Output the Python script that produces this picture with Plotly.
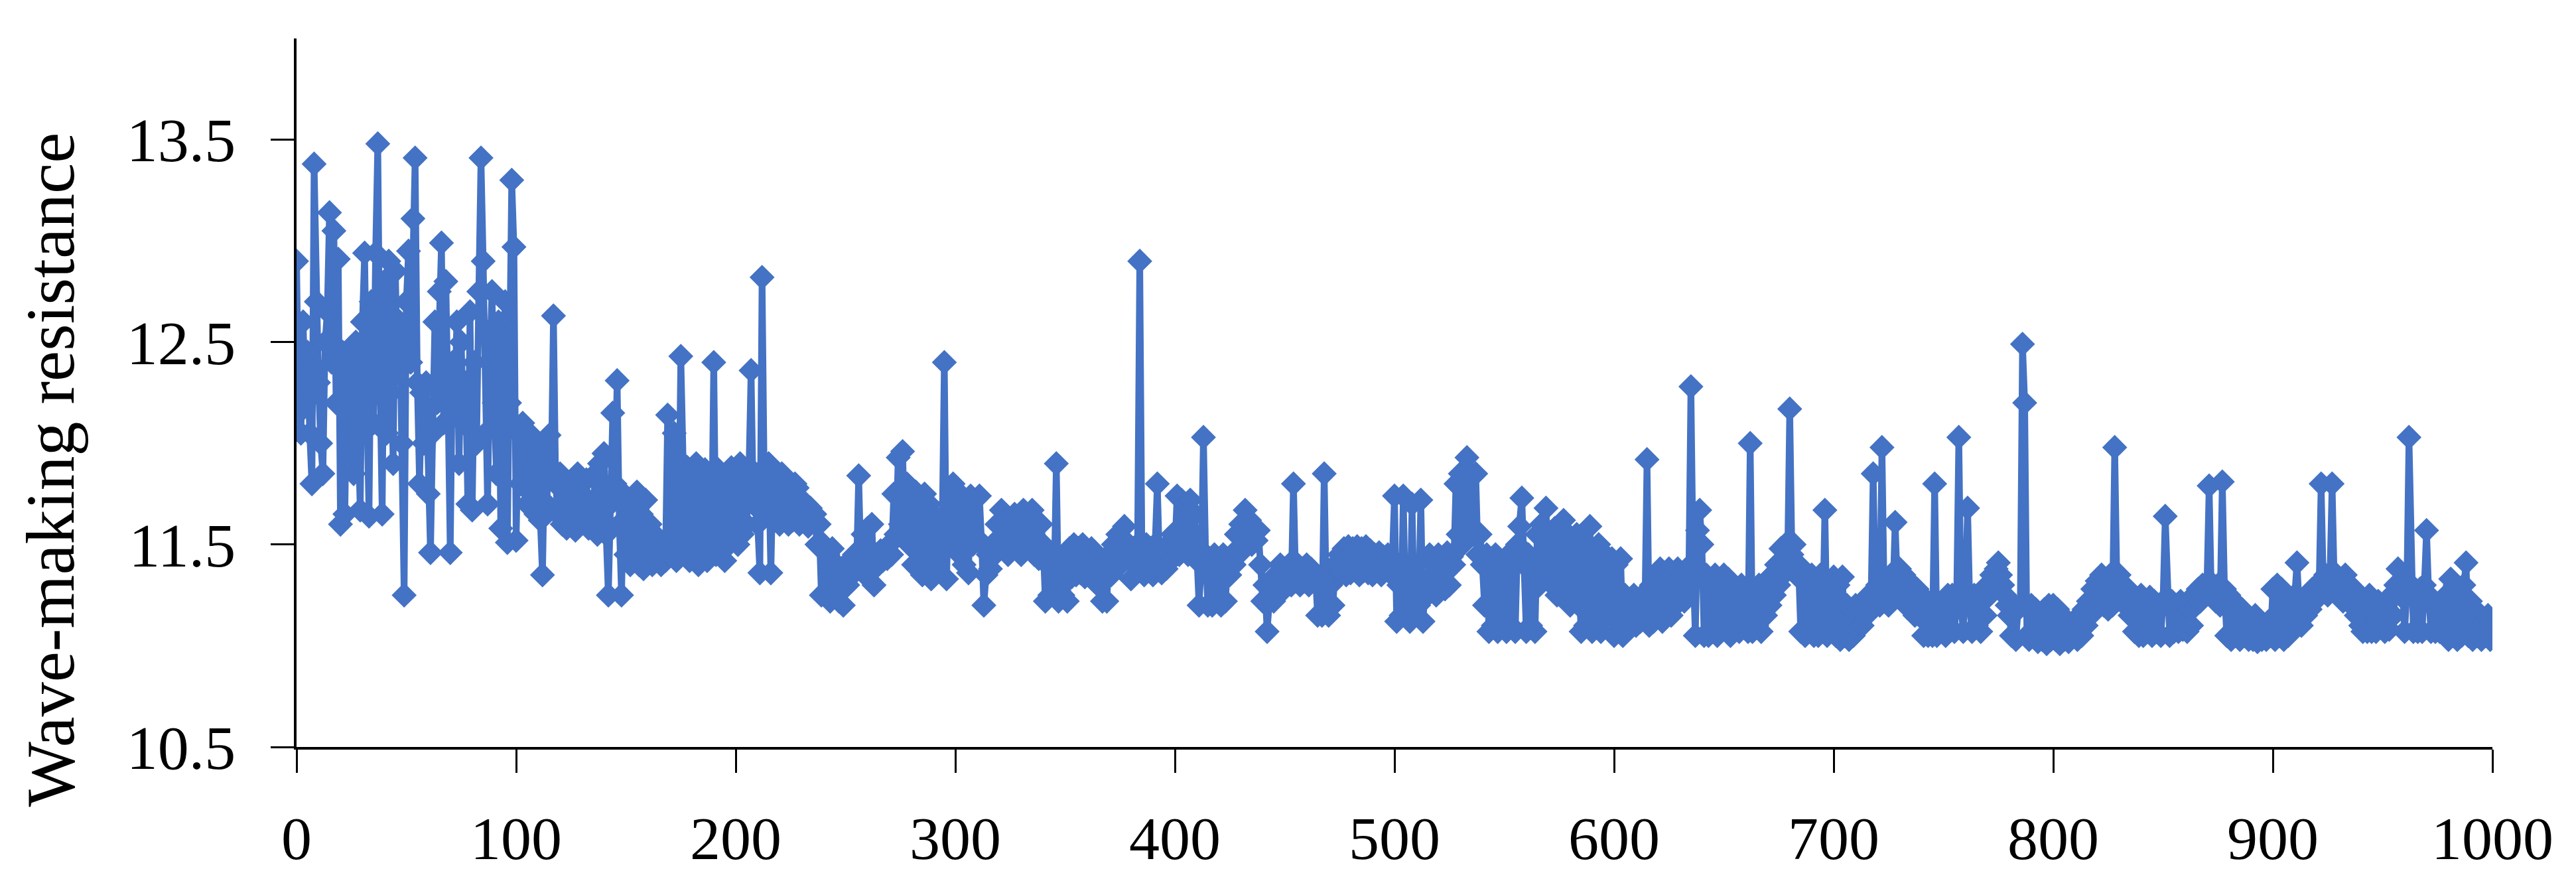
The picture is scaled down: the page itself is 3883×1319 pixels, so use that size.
import plotly.graph_objects as go

# Iteration index
iteration = list(range(0, 1001))

# Wave-making resistance, per 100-iteration block
res_000 = [12.90, 12.15, 12.05, 12.60, 12.20, 12.45, 12.05, 11.80, 13.38, 12.70,
           12.30, 12.00, 11.85, 12.50, 12.65, 13.14, 12.40, 13.05, 12.20, 12.91,
           11.60, 12.45, 11.65, 12.40, 11.95, 12.35, 11.85, 12.50, 12.05, 11.67,
           12.60, 12.94, 12.20, 11.64, 12.70, 12.10, 12.94, 13.48, 12.30, 11.65,
           12.80, 12.05, 12.90, 12.25, 11.90, 12.85, 12.35, 12.60, 12.00, 11.25,
           12.70, 12.95, 12.40, 13.11, 13.41, 12.30, 11.80, 12.25, 12.00, 12.30,
           11.75, 11.46, 12.05, 12.60, 12.20, 12.75, 12.99, 12.10, 12.80, 12.20,
           11.46, 12.40, 12.20, 12.60, 11.90, 12.50, 12.10, 12.30, 11.70, 12.65,
           11.67, 12.40, 12.00, 12.75, 13.41, 12.90, 12.05, 11.70, 12.40, 12.75,
           12.20, 11.85, 12.60, 11.58, 12.40, 12.70, 11.51, 12.20, 13.30, 12.97]
res_100 = [11.52, 12.05, 11.80, 12.10, 11.95, 11.70, 12.05, 11.75, 12.00, 11.65,
           11.90, 11.62, 11.35, 11.95, 11.70, 12.04, 11.85, 12.63, 11.80, 11.65,
           11.85, 11.60, 11.82, 11.58, 11.80, 11.62, 11.78, 11.57, 11.85, 11.60,
           11.75, 11.62, 11.82, 11.58, 11.70, 11.65, 11.85, 11.55, 11.90, 11.62,
           11.95, 11.55, 11.25, 11.70, 12.15, 11.80, 12.31, 11.60, 11.25, 11.75,
           11.45, 11.72, 11.40, 11.70, 11.45, 11.76, 11.40, 11.65, 11.38, 11.72,
           11.42, 11.60, 11.40, 11.55, 11.42, 11.50, 11.40, 11.48, 11.42, 12.14,
           11.45, 11.50, 12.05, 11.42, 11.55, 12.43, 11.90, 11.45, 11.88, 11.42,
           11.85, 11.45, 11.90, 11.40, 11.80, 11.48, 11.87, 11.42, 11.85, 11.50,
           12.40, 11.45, 11.87, 11.48, 11.82, 11.42, 11.85, 11.50, 11.88, 11.55]
res_200 = [11.85, 11.50, 11.90, 11.55, 11.80, 11.60, 11.85, 12.36, 11.70, 11.85,
           11.60, 11.36, 12.82, 11.80, 11.65, 11.90, 11.36, 11.85, 11.62, 11.80,
           11.60, 11.85, 11.65, 11.78, 11.60, 11.75, 11.62, 11.80, 11.78, 11.60,
           11.72, 11.62, 11.70, 11.59, 11.68, 11.62, 11.65, 11.50, 11.60, 11.25,
           11.50, 11.25, 11.45, 11.22, 11.48, 11.25, 11.40, 11.22, 11.35, 11.20,
           11.40, 11.30, 11.42, 11.35, 11.45, 11.38, 11.84, 11.40, 11.55, 11.35,
           11.58, 11.45, 11.60, 11.30, 11.45, 11.40, 11.47, 11.42, 11.46, 11.43,
           11.50, 11.45, 11.75, 11.55, 11.93, 11.60, 11.96, 11.55, 11.80, 11.50,
           11.75, 11.40, 11.76, 11.38, 11.72, 11.35, 11.75, 11.40, 11.70, 11.33,
           11.65, 11.38, 11.60, 11.45, 11.55, 12.40, 11.33, 11.70, 11.50, 11.80]
res_300 = [11.53, 11.74, 11.45, 11.74, 11.40, 11.70, 11.36, 11.74, 11.50, 11.72,
           11.53, 11.74, 11.50, 11.20, 11.35, 11.45, 11.38, 11.50, 11.45, 11.60,
           11.48, 11.67, 11.50, 11.62, 11.45, 11.60, 11.48, 11.65, 11.50, 11.62,
           11.45, 11.67, 11.48, 11.60, 11.50, 11.67, 11.45, 11.62, 11.43, 11.60,
           11.50, 11.22, 11.40, 11.25, 11.45, 11.30, 11.90, 11.22, 11.40, 11.25,
           11.45, 11.22, 11.48, 11.34, 11.50, 11.35, 11.48, 11.36, 11.50, 11.34,
           11.45, 11.38, 11.48, 11.35, 11.45, 11.30, 11.40, 11.22, 11.42, 11.22,
           11.45, 11.35, 11.50, 11.38, 11.55, 11.40, 11.52, 11.59, 11.45, 11.50,
           11.33, 11.48, 11.40, 11.50, 12.90, 11.45, 11.35, 11.50, 11.38, 11.48,
           11.35, 11.50, 11.80, 11.40, 11.36, 11.48, 11.38, 11.50, 11.42, 11.55]
res_400 = [11.48, 11.74, 11.45, 11.72, 11.48, 11.70, 11.45, 11.72, 11.50, 11.65,
           11.45, 11.20, 11.40, 12.03, 11.45, 11.20, 11.42, 11.20, 11.45, 11.25,
           11.42, 11.20, 11.45, 11.22, 11.40, 11.35, 11.45, 11.40, 11.55, 11.45,
           11.60, 11.50, 11.67, 11.55, 11.62, 11.50, 11.57, 11.52, 11.57, 11.40,
           11.22, 11.30, 11.07, 11.22, 11.30, 11.22, 11.35, 11.25, 11.40, 11.30,
           11.38, 11.32, 11.40, 11.30, 11.80, 11.32, 11.40, 11.30, 11.38, 11.32,
           11.40, 11.30, 11.38, 11.32, 11.35, 11.15, 11.30, 11.15, 11.85, 11.20,
           11.15, 11.30, 11.20, 11.40, 11.35, 11.45, 11.36, 11.48, 11.35, 11.49,
           11.36, 11.48, 11.38, 11.49, 11.35, 11.48, 11.37, 11.49, 11.36, 11.47,
           11.35, 11.45, 11.38, 11.46, 11.35, 11.44, 11.38, 11.45, 11.36, 11.42]
res_500 = [11.74, 11.12, 11.30, 11.15, 11.74, 11.20, 11.35, 11.12, 11.70, 11.15,
           11.30, 11.20, 11.72, 11.12, 11.30, 11.25, 11.45, 11.28, 11.40, 11.25,
           11.45, 11.30, 11.42, 11.28, 11.46, 11.30, 11.44, 11.40, 11.80, 11.55,
           11.85, 11.50, 11.78, 11.93, 11.60, 11.85, 11.55, 11.85, 11.45, 11.55,
           11.40, 11.20, 11.45, 11.07, 11.40, 11.10, 11.45, 11.07, 11.40, 11.12,
           11.42, 11.07, 11.45, 11.10, 11.40, 11.07, 11.50, 11.59, 11.73, 11.40,
           11.07, 11.45, 11.10, 11.40, 11.07, 11.55, 11.30, 11.60, 11.35, 11.68,
           11.40, 11.55, 11.30, 11.58, 11.25, 11.55, 11.35, 11.62, 11.30, 11.55,
           11.20, 11.50, 11.25, 11.55, 11.20, 11.07, 11.45, 11.10, 11.50, 11.59,
           11.07, 11.45, 11.10, 11.50, 11.07, 11.46, 11.20, 11.40, 11.15, 11.43]
res_600 = [11.05, 11.40, 11.08, 11.43, 11.05, 11.25, 11.10, 11.22, 11.12, 11.25,
           11.10, 11.20, 11.12, 11.25, 11.15, 11.92, 11.10, 11.30, 11.12, 11.35,
           11.15, 11.38, 11.12, 11.35, 11.18, 11.38, 11.15, 11.36, 11.20, 11.38,
           11.25, 11.35, 11.22, 11.38, 11.30, 12.28, 11.40, 11.05, 11.57, 11.67,
           11.50, 11.05, 11.35, 11.05, 11.30, 11.07, 11.35, 11.05, 11.30, 11.08,
           11.35, 11.10, 11.33, 11.05, 11.30, 11.10, 11.28, 11.07, 11.30, 11.10,
           11.25, 11.07, 12.00, 11.07, 11.25, 11.10, 11.30, 11.07, 11.25, 11.15,
           11.30, 11.20, 11.35, 11.25, 11.40, 11.30, 11.48, 11.35, 11.50, 11.40,
           12.17, 11.45, 11.50, 11.35, 11.40, 11.07, 11.35, 11.05, 11.32, 11.08,
           11.35, 11.05, 11.30, 11.05, 11.35, 11.10, 11.67, 11.05, 11.30, 11.10]
res_700 = [11.34, 11.05, 11.30, 11.03, 11.34, 11.05, 11.20, 11.03, 11.18, 11.05,
           11.20, 11.08, 11.18, 11.10, 11.22, 11.15, 11.25, 11.20, 11.85, 11.25,
           11.30, 11.20, 11.98, 11.25, 11.30, 11.20, 11.35, 11.25, 11.61, 11.30,
           11.38, 11.25, 11.35, 11.20, 11.32, 11.18, 11.30, 11.15, 11.28, 11.15,
           11.25, 11.05, 11.20, 11.05, 11.15, 11.05, 11.80, 11.05, 11.20, 11.08,
           11.22, 11.05, 11.25, 11.15, 11.25, 11.07, 11.22, 12.03, 11.20, 11.07,
           11.25, 11.68, 11.20, 11.07, 11.25, 11.10, 11.22, 11.07, 11.25, 11.15,
           11.30, 11.25, 11.35, 11.30, 11.38, 11.41, 11.35, 11.30, 11.25, 11.20,
           11.15, 11.05, 11.20, 11.03, 11.18, 11.20, 12.49, 12.20, 11.05, 11.03,
           11.20, 11.05, 11.18, 11.02, 11.15, 11.03, 11.18, 11.01, 11.20, 11.03]
res_800 = [11.20, 11.03, 11.18, 11.01, 11.15, 11.03, 11.12, 11.02, 11.10, 11.05,
           11.12, 11.03, 11.15, 11.05, 11.18, 11.10, 11.22, 11.15, 11.28, 11.20,
           11.32, 11.22, 11.35, 11.20, 11.33, 11.18, 11.35, 11.20, 11.98, 11.30,
           11.35, 11.22, 11.30, 11.20, 11.28, 11.15, 11.25, 11.07, 11.22, 11.05,
           11.25, 11.05, 11.22, 11.07, 11.24, 11.05, 11.22, 11.07, 11.20, 11.05,
           11.22, 11.64, 11.20, 11.05, 11.22, 11.07, 11.20, 11.07, 11.22, 11.08,
           11.20, 11.07, 11.22, 11.10, 11.25, 11.20, 11.28, 11.22, 11.30, 11.25,
           11.30, 11.79, 11.25, 11.30, 11.22, 11.30, 11.20, 11.81, 11.28, 11.05,
           11.25, 11.03, 11.22, 11.05, 11.20, 11.03, 11.18, 11.05, 11.15, 11.03,
           11.12, 11.03, 11.15, 11.02, 11.12, 11.03, 11.10, 11.03, 11.12, 11.05]
res_900 = [11.28, 11.03, 11.30, 11.05, 11.28, 11.03, 11.20, 11.05, 11.18, 11.08,
           11.25, 11.41, 11.20, 11.10, 11.22, 11.15, 11.25, 11.18, 11.28, 11.22,
           11.30, 11.25, 11.80, 11.30, 11.35, 11.25, 11.33, 11.80, 11.30, 11.35,
           11.25, 11.33, 11.22, 11.35, 11.25, 11.30, 11.20, 11.28, 11.15, 11.25,
           11.10, 11.07, 11.22, 11.07, 11.25, 11.07, 11.20, 11.07, 11.22, 11.10,
           11.20, 11.07, 11.22, 11.08, 11.25, 11.15, 11.30, 11.38, 11.25, 11.30,
           11.07, 11.25, 12.03, 11.30, 11.07, 11.25, 11.07, 11.28, 11.07, 11.30,
           11.57, 11.25, 11.07, 11.22, 11.07, 11.20, 11.07, 11.22, 11.10, 11.25,
           11.03, 11.33, 11.05, 11.30, 11.03, 11.28, 11.05, 11.30, 11.41, 11.05,
           11.22, 11.03, 11.18, 11.05, 11.15, 11.03, 11.12, 11.05, 11.15, 11.03,
           11.05]

resistance = (res_000 + res_100 + res_200 + res_300 + res_400 +
              res_500 + res_600 + res_700 + res_800 + res_900)

y_ticks = [10.5, 11.5, 12.5, 13.5]
x_ticks = list(range(0, 1001, 100))

FONT = "Liberation Serif, Times New Roman, serif"
BLUE = "#4472C4"

fig = go.Figure()
fig.add_trace(go.Scatter(
    x=iteration, y=resistance, mode="lines+markers",
    line=dict(color=BLUE, width=10),
    marker=dict(symbol="diamond", size=29, color=BLUE),
    showlegend=False,
))

fig.update_layout(
    width=3883, height=1319,
    margin=dict(l=439, r=134, t=50, b=196),
    paper_bgcolor="white", plot_bgcolor="white",
    font=dict(family=FONT, color="black", size=92),
    annotations=[dict(
        text="Wave-making resistance", textangle=-90,
        xref="paper", yref="paper", x=-0.1124, y=0.392,
        xanchor="center", yanchor="middle", showarrow=False,
        font=dict(family=FONT, size=104, color="black"),
    )],
)
fig.update_xaxes(
    range=[0, 1000], tickvals=x_ticks, ticks="outside", ticklen=35, tickwidth=3,
    tickcolor="black", showline=True, linewidth=4, linecolor="black",
    showgrid=False, zeroline=False, tickfont=dict(family=FONT, size=92),
    ticklabelstandoff=20,
)
fig.update_yaxes(
    range=[10.5, 14.0], tickvals=y_ticks, ticktext=[f"{v:.1f}" for v in y_ticks],
    ticks="outside", ticklen=35, tickwidth=3, tickcolor="black",
    showline=True, linewidth=4, linecolor="black",
    showgrid=False, zeroline=False, tickfont=dict(family=FONT, size=94),
    ticklabelstandoff=34,
)

fig.write_html("out.html")
